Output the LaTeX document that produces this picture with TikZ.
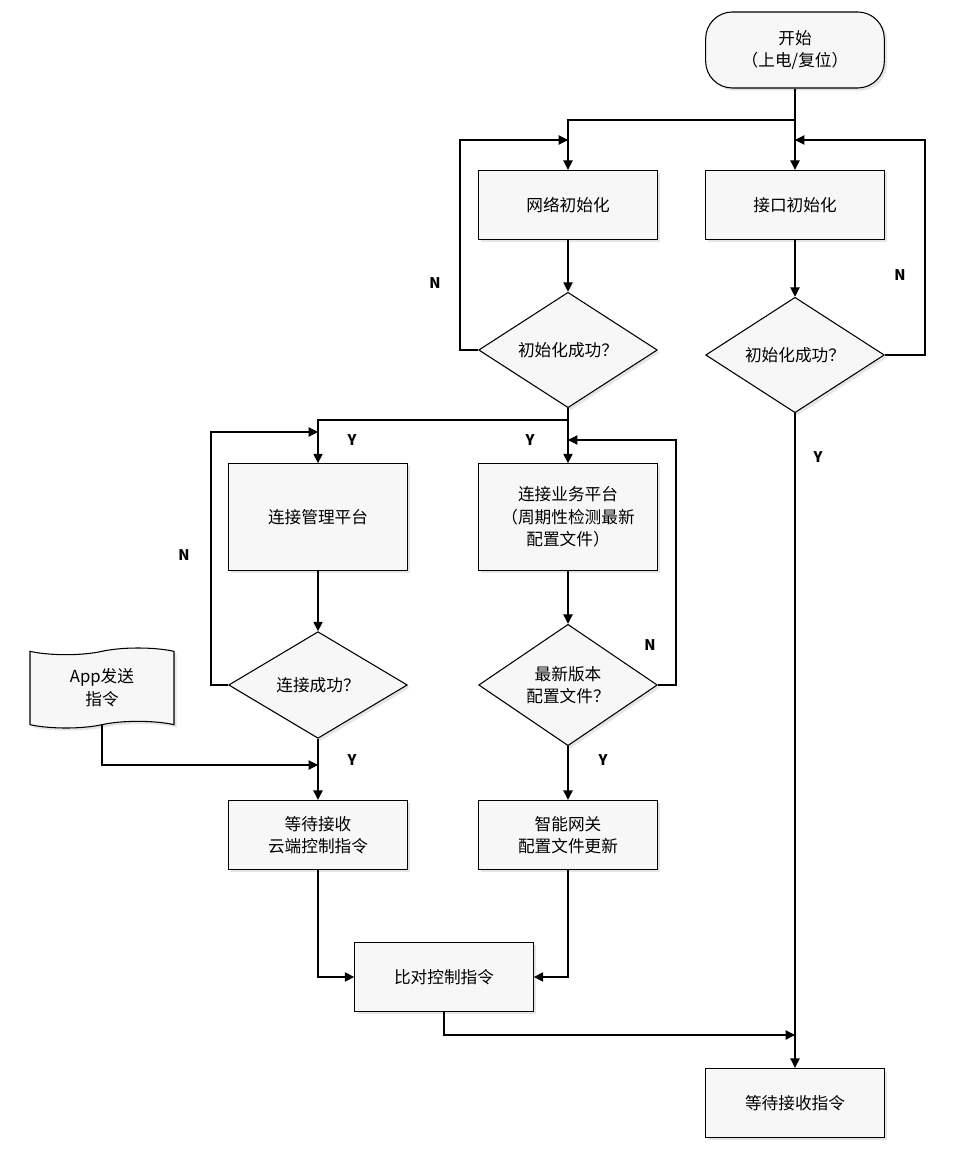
\documentclass[tikz,border=0pt]{standalone}
\usepackage{fontspec}
\setmainfont{Noto Sans CJK SC}
\usetikzlibrary{shapes.geometric,shapes.symbols,shadows,arrows.meta}
\tikzset{
  box/.style={draw,thick,fill=gray!6,drop shadow={shadow xshift=2pt,shadow yshift=-2pt,fill=gray!40},
    minimum width=134pt,minimum height=52pt,align=center,font=\fontsize{12.5}{17}\selectfont},
  tall/.style={box,minimum height=80pt},
  dec/.style={draw,thick,diamond,fill=gray!6,drop shadow={shadow xshift=2pt,shadow yshift=-2pt,fill=gray!40},
    minimum width=134pt,minimum height=80pt,inner sep=0pt,align=center,font=\fontsize{12.5}{17}\selectfont},
  term/.style={box,rounded corners=20pt,minimum height=57pt},
  lbl/.style={font=\bfseries\fontsize{11}{13}\selectfont},
  line/.style={draw,thick,-{Triangle[length=7pt,width=7pt]}},
}
\begin{document}
\begin{tikzpicture}[x=0.75pt,y=-0.75pt]
        \useasboundingbox (0,0) rectangle (961,1151);
        % nodes
        \node[term] (start) at (795,50) {开始\\（上电/复位）};
        \node[box] (netinit) at (568,205) {网络初始化};
        \node[box] (ifinit) at (795,205) {接口初始化};
        \node[dec] (netok) at (568,350) {初始化成功？};
        \node[dec] (ifok) at (795,355) {初始化成功？};
        \node[tall] (mgmt) at (318,517) {连接管理平台};
        \node[tall] (svc) at (568,517) {连接业务平台\\（周期性检测最新\\配置文件）};
        \node[dec] (mgmtok) at (318,685) {连接成功？};
        \node[dec] (ver) at (568,685) {最新版本\\配置文件？};
        \node[box] (wait) at (318,835) {等待接收\\云端控制指令};
        \node[box] (upd) at (568,835) {智能网关\\配置文件更新};
        \node[box] (cmp) at (444,977) {比对控制指令};
        \node[box] (idle) at (795,1103) {等待接收指令};
        \node[tape,draw,thick,fill=gray!6,drop shadow={shadow xshift=2pt,shadow yshift=-2pt,fill=gray!40},
          minimum width=108pt,minimum height=60pt,align=center,font=\fontsize{12.5}{17}\selectfont] (app) at (102,688) {App发送\\指令};

        % top branches
        \coordinate (split) at (795,120);
        \draw[thick] (start.south) -- (split);
        \draw[line] (split) -| (netinit.north);
        \draw[line] (split) -- (ifinit.north);
        \draw[line] (netinit) -- (netok);
        \draw[line] (ifinit) -- (ifok);
        % retry loops
        \draw[line] (netok.west) -- (460,350) -- (460,140) -- (568,140);
        \draw[line] (ifok.east) -- (925,355) -- (925,140) -- (795,140);
        \node[lbl] at (435,283) {N};
        \node[lbl] at (900,275) {N};
        % Y paths
        \draw[line] (ifok.south) -- (idle.north);
        \node[lbl] at (818,457) {Y};
        \draw[thick] (netok.south) -- (568,420);
        \draw[line] (568,420) -| (mgmt.north);
        \draw[line] (568,420) -- (svc.north);
        \node[lbl] at (352,440) {Y};
        \node[lbl] at (530,440) {Y};
        \draw[line] (mgmt) -- (mgmtok);
        \draw[line] (svc) -- (ver);
        \draw[line] (mgmtok.west) -- (211,685) -- (211,432) -- (318,432);
        \draw[line] (ver.east) -- (676,685) -- (676,440) -- (568,440);
        \node[lbl] at (184,555) {N};
        \node[lbl] at (650,645) {N};
        \draw[line] (mgmtok) -- (wait);
        \draw[line] (ver) -- (upd);
        \node[lbl] at (352,760) {Y};
        \node[lbl] at (603,760) {Y};
        \draw[line] (app.south) -- (102,765) -- (318,765);
        % compare
        \draw[line] (wait.south) |- (cmp.west);
        \draw[line] (upd.south) |- (cmp.east);
        \draw[line] (cmp.south) -- (444,1035) -- (795,1035);
\end{tikzpicture}
\end{document}
